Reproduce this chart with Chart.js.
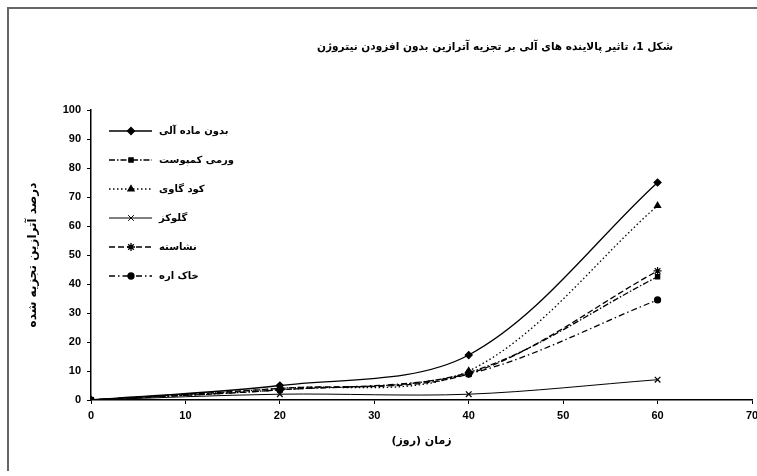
<!DOCTYPE html>
<html><head><meta charset="utf-8">
<script src="https://cdn.jsdelivr.net/npm/chart.js@4.4.0/dist/chart.umd.min.js"></script>
<style>
html,body{margin:0;padding:0;overflow:hidden;background:#fff;width:757px;height:476px}
#wrap{position:relative;width:757px;height:476px;overflow:hidden}
#frame{position:absolute;left:7px;top:7px;width:800px;height:462px;border-left:2px solid #666;border-top:2px solid #666;pointer-events:none}
#c{position:absolute;left:0;top:0}
</style></head><body>
<div id="wrap"><canvas id="c" width="775" height="476"></canvas><div id="frame"></div></div>
<script>
const days = [0, 20, 40, 60];
const seriesNames = ["بدون ماده آلی", "ورمی کمپوست", "کود گاوی", "گلوکز", "نشاسته", "خاک اره"];
const noOrganic = [0, 5, 15.5, 75];
const vermicompost = [0, 3.5, 9.5, 42.5];
const cowManure = [0, 4, 10, 67];
const glucose = [0, 2, 2, 7];
const starch = [0, 4, 9, 44.5];
const sawdust = [0, 3.5, 9, 34.5];
const xTicks = [0, 10, 20, 30, 40, 50, 60, 70];
const yTicks = [0, 10, 20, 30, 40, 50, 60, 70, 80, 90, 100];
const titleText = "شکل 1، تاثیر پالاینده های آلی بر تجزیه آترازین بدون افزودن نیتروژن";
const xTitle = "زمان (روز)";
const yTitle = "درصد آترازین تجزیه شده";

const values = [noOrganic, vermicompost, cowManure, glucose, starch, sawdust];
const styles = [
  {dash: [], point: 'rectRot', r: 3.5},
  {dash: [6, 2, 1.5, 2], point: 'rect', r: 3},
  {dash: [1.5, 2.5], point: 'triangle', r: 3.5},
  {dash: [], point: 'crossRot', r: 4},
  {dash: [6, 3], point: 'star', r: 4},
  {dash: [6, 3, 1.5, 3], point: 'circle', r: 3}
];

const datasets = values.map((v, i) => ({
  label: seriesNames[i],
  data: days.map((d, j) => ({x: d, y: v[j]})),
  borderColor: '#000',
  backgroundColor: '#000',
  borderWidth: i === 3 ? 1 : 1.3,
  borderDash: styles[i].dash,
  pointStyle: styles[i].point,
  pointRadius: styles[i].r,
  pointBorderWidth: 1.2,
  pointBackgroundColor: '#000',
  pointBorderColor: '#000',
  tension: 0.33,
  fill: false
}));

const persianFont = '"DejaVu Sans", "Noto Sans", sans-serif';

const titlePlugin = {
  id: 'fixedTitle',
  afterDraw(chart) {
    const ctx = chart.ctx;
    ctx.save();
    ctx.direction = 'rtl';
    ctx.fillStyle = '#000';
    ctx.font = 'bold 11px ' + persianFont;
    ctx.textAlign = 'center';
    ctx.textBaseline = 'middle';
    ctx.fillText(titleText, 495, 47, 356);
    ctx.restore();
  }
};

const legendPlugin = {
  id: 'innerLegend',
  afterDatasetsDraw(chart) {
    const ctx = chart.ctx;
    const H = Chart.helpers;
    chart.data.datasets.forEach((ds, i) => {
      const y = 131 + i * 29;
      ctx.save();
      ctx.strokeStyle = '#000';
      ctx.lineWidth = ds.borderWidth;
      ctx.setLineDash(ds.borderDash || []);
      ctx.beginPath();
      ctx.moveTo(109, y);
      ctx.lineTo(152, y);
      ctx.stroke();
      ctx.setLineDash([]);
      ctx.fillStyle = '#000';
      if (H && H.drawPoint) {
        H.drawPoint(ctx, {pointStyle: ds.pointStyle, radius: ds.pointRadius, rotation: 0, borderWidth: ds.pointBorderWidth}, 131, y);
      }
      ctx.direction = 'rtl';
      ctx.font = 'bold 10px ' + persianFont;
      ctx.textAlign = 'left';
      ctx.textBaseline = 'middle';
      ctx.fillText(ds.label, 159, y);
      ctx.restore();
    });
  }
};

new Chart(document.getElementById('c'), {
  type: 'line',
  data: {datasets},
  options: {
    responsive: false,
    animation: false,
    layout: {padding: {left: 0, top: 110, right: 23, bottom: 0}},
    plugins: {legend: {display: false}, title: {display: false}, tooltip: {enabled: false}},
    scales: {
      x: {
        type: 'linear', min: 0, max: 70,
        afterBuildTicks: s => { s.ticks = xTicks.map(v => ({value: v})); },
        afterFit: s => { s.height = 76; },
        grid: {display: true, drawOnChartArea: false, drawTicks: true, tickLength: 4, color: '#000', lineWidth: 1},
        border: {display: true, color: '#000', width: 1.5},
        ticks: {color: '#000', padding: 5, maxRotation: 0, font: {family: '"Liberation Sans", Arial, sans-serif', size: 11, weight: 'bold'}},
        title: {display: true, text: xTitle, color: '#000', font: {family: persianFont, size: 11, weight: 'bold'}, padding: {top: 0, bottom: 28}}
      },
      y: {
        type: 'linear', min: 0, max: 100,
        afterBuildTicks: s => { s.ticks = yTicks.map(v => ({value: v})); },
        afterFit: s => { s.width = 91; },
        grid: {display: true, drawOnChartArea: false, drawTicks: true, tickLength: 4, color: '#000', lineWidth: 1},
        border: {display: true, color: '#000', width: 1.5},
        ticks: {color: '#000', padding: 6, font: {family: '"Liberation Sans", Arial, sans-serif', size: 11, weight: 'bold'}},
        title: {display: true, text: yTitle, color: '#000', font: {family: persianFont, size: 12, weight: 'bold'}, padding: {top: 26, bottom: 0}}
      }
    }
  },
  plugins: [titlePlugin, legendPlugin]
});
</script>
</body></html>
